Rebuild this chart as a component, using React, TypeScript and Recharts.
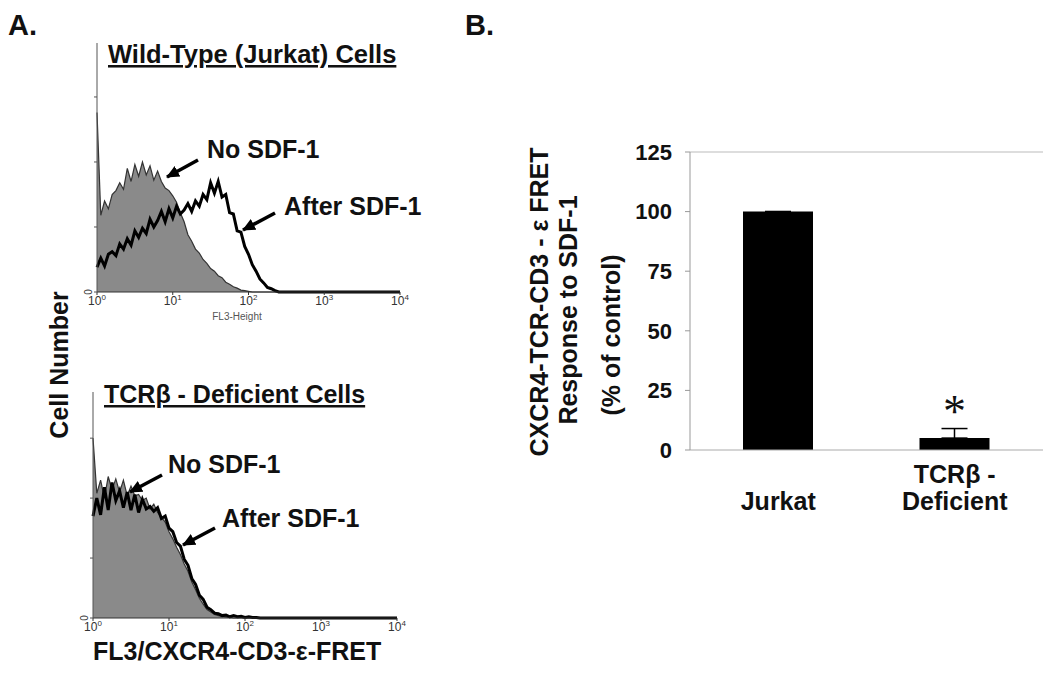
import { ComposedChart, Area, Line, XAxis, YAxis, BarChart, Bar, ErrorBar, LabelList, ReferenceLine } from 'recharts'

// FL3 channels in log10 decades (10^0 .. 10^4)
const bins = [0, 0.05, 0.1, 0.15, 0.2, 0.25, 0.3, 0.35, 0.4, 0.45, 0.5, 0.55, 0.6, 0.65, 0.7, 0.75, 0.8, 0.85, 0.9, 0.95,
  1, 1.05, 1.1, 1.15, 1.2, 1.25, 1.3, 1.35, 1.4, 1.45, 1.5, 1.55, 1.6, 1.65, 1.7, 1.75, 1.8, 1.85, 1.9, 1.95,
  2, 2.05, 2.1, 2.15, 2.2, 2.25, 2.3, 2.35, 2.4, 2.45, 2.5, 3, 4]
const decadeTicks = [0, 1, 2, 3, 4]
const countTicks = [0, 100, 200, 300]

// cell counts
const wtNoSdf = [276, 118, 140, 128, 150, 156, 168, 158, 190, 170, 196, 178, 200, 180, 194, 172, 186, 170, 160, 156,
  148, 138, 122, 108, 88, 78, 66, 60, 50, 44, 36, 32, 25, 22, 15, 12, 8, 6, 3, 2,
  1, 0, 0, 0, 0, 0, 0, 0, 0, 0, 0, 0, 0]
const wtAfterSdf = [38, 52, 40, 58, 62, 56, 74, 66, 82, 72, 94, 84, 98, 90, 112, 100, 110, 124, 108, 128,
  114, 132, 120, 126, 136, 124, 140, 132, 150, 142, 168, 152, 170, 146, 150, 122, 120, 94, 92, 70,
  58, 42, 32, 20, 14, 7, 5, 2, 0, 0, 0, 0, 0]
const tcrNoSdf = [300, 208, 230, 200, 236, 214, 232, 210, 230, 204, 220, 204, 206, 196, 200, 182, 190, 176, 168, 160,
  144, 132, 118, 106, 90, 78, 60, 47, 33, 23, 14, 10, 6, 4, 3, 2, 1, 0, 0, 0,
  0, 0, 0, 0, 0, 0, 0, 0, 0, 0, 0, 0, 0]
const tcrAfterSdf = [170, 200, 172, 218, 180, 226, 196, 212, 184, 210, 180, 206, 176, 198, 182, 186, 178, 184, 166, 170,
  150, 144, 126, 120, 98, 88, 66, 56, 38, 31, 18, 14, 8, 7, 4, 5, 2, 4, 2, 3,
  1, 2, 1, 1, 0, 0, 0, 0, 0, 0, 0, 0, 0]

// panel B
const groups = ['Jurkat', 'TCRβ -|Deficient']
const fretResponse = [100, 5]
const fretSem = [0, 4]
const sigMarks = ['', '*']
const pctTicks = [0, 25, 50, 75, 100, 125]

const font = '"Liberation Sans", Arial, Helvetica, sans-serif'

function DecadeTick({ x, y, payload }: any) {
  return (
    <text x={x} y={y + 8} textAnchor="middle" fontFamily={font} fontSize={12} fill="#333">
      10<tspan dy={-5} fontSize={8}>{payload.value}</tspan>
    </text>
  )
}

function ZeroTick({ x, y, payload }: any) {
  if (payload.value !== 0) return <g />
  return (
    <text x={x} y={y} transform={`rotate(-90 ${x} ${y})`} textAnchor="middle" fontFamily={font} fontSize={10} fill="#333">0</text>
  )
}

function FretHistogram({ noSdf, afterSdf, yMax, width, height, margin, yWidth, xHeight }: any) {
  const rows = bins.map((b, i) => ({ b, noSdf: noSdf[i], afterSdf: afterSdf[i] }))
  return (
    <ComposedChart width={width} height={height} data={rows} margin={margin}>
      <XAxis dataKey="b" type="number" domain={[0, 4]} ticks={decadeTicks} height={xHeight}
        tick={<DecadeTick />} tickSize={3} tickMargin={2} stroke="#333" />
      <YAxis type="number" domain={[0, yMax]} ticks={countTicks} width={yWidth}
        tick={<ZeroTick />} tickSize={3} tickMargin={2} stroke="#555" />
      <Area dataKey="noSdf" type="linear" fill="#8a8a8a" fillOpacity={1} stroke="#333" strokeWidth={1.2} isAnimationActive={false} />
      <Line dataKey="afterSdf" type="linear" stroke="#000" strokeWidth={3} dot={false} isAnimationActive={false} />
    </ComposedChart>
  )
}

function GroupTick({ x, y, payload }: any) {
  const lines = String(payload.value).split('|')
  return (
    <text x={x} textAnchor="middle" fontFamily={font} fontSize={25} fontWeight="bold" fill="#111">
      {lines.map((l, i) => (
        <tspan key={i} x={x} y={y + 60 - (lines.length - 1 - i) * 27}>{l}</tspan>
      ))}
    </text>
  )
}

function SigMark({ x, y, width, value }: any) {
  if (!value) return null
  return (
    <text x={x + width / 2} y={y - 11} textAnchor="middle" fontFamily='"Liberation Serif", serif' fontSize={46} fill="#111">{value}</text>
  )
}

const bold = { fontFamily: font, fontWeight: 'bold' as const, fill: '#111' }

export default function App() {
  const barRows = groups.map((g, i) => ({ g, v: fretResponse[i], e: [0, fretSem[i]], sig: sigMarks[i] }))
  return (
    <div style={{ position: 'absolute', left: 0, top: 0, width: 1050, height: 682, background: '#fff', overflow: 'hidden' }}>
      <div style={{ position: 'absolute', left: 0, top: 0 }}>
        <FretHistogram noSdf={wtNoSdf} afterSdf={wtAfterSdf} yMax={383} width={420} height={320}
          margin={{ top: 43, right: 20, left: 0, bottom: 0 }} yWidth={97} xHeight={28} />
      </div>
      <div style={{ position: 'absolute', left: 0, top: 350 }}>
        <FretHistogram noSdf={tcrNoSdf} afterSdf={tcrAfterSdf} yMax={377} width={420} height={300}
          margin={{ top: 42, right: 23, left: 0, bottom: 0 }} yWidth={93} xHeight={32} />
      </div>
      <div style={{ position: 'absolute', left: 540, top: 120 }}>
        <BarChart width={510} height={420} data={barRows} margin={{ top: 32, right: 7, left: 0, bottom: 0 }}>
          <XAxis dataKey="g" height={90} tickLine={false} tickSize={0} tickMargin={0} stroke="#aaa" tick={<GroupTick />} interval={0} />
          <YAxis domain={[0, 125]} ticks={pctTicks} width={150} tickSize={5} tickMargin={13} stroke="#999"
            tick={{ fill: '#111', fontSize: 22, fontWeight: 'bold', fontFamily: font }} />
          <YAxis yAxisId="frame" orientation="right" domain={[0, 125]} width={0} tick={false} tickLine={false} stroke="#bbb" />
          <ReferenceLine y={125} stroke="#bbb" />
          <Bar dataKey="v" fill="#000" barSize={70} isAnimationActive={false}>
            <ErrorBar dataKey="e" width={13} strokeWidth={1.5} stroke="#000" direction="y" />
            <LabelList dataKey="sig" content={<SigMark />} />
          </Bar>
        </BarChart>
      </div>
      <svg width={1050} height={682} style={{ position: 'absolute', left: 0, top: 0, pointerEvents: 'none' }}>
        <defs>
          <marker id="head" markerUnits="userSpaceOnUse" markerWidth={14} markerHeight={14} refX={12} refY={7} orient="auto">
            <path d="M0,1 L13,7 L0,13 Z" fill="#000" />
          </marker>
        </defs>
        <text x={8} y={35} fontSize={29} {...bold}>A.</text>
        <text x={465} y={35} fontSize={29} {...bold}>B.</text>

        <text x={108} y={63} fontSize={25.5} {...bold} textDecoration="underline">Wild-Type (Jurkat) Cells</text>
        <text x={207} y={158} fontSize={25} {...bold}>No SDF-1</text>
        <line x1={198} y1={160} x2={167} y2={177} stroke="#000" strokeWidth={3.5} markerEnd="url(#head)" />
        <text x={284} y={215} fontSize={25} {...bold}>After SDF-1</text>
        <line x1={275} y1={213} x2={243} y2={230} stroke="#000" strokeWidth={3.5} markerEnd="url(#head)" />
        <text x={237} y={320} fontSize={10} fontFamily={font} fill="#555" textAnchor="middle">FL3-Height</text>

        <text x={68} y={365} fontSize={25} {...bold} textAnchor="middle" transform="rotate(-90 68 365)">Cell Number</text>

        <text x={104} y={403} fontSize={25} {...bold} textDecoration="underline">TCRβ - Deficient Cells</text>
        <text x={168} y={473} fontSize={25} {...bold}>No SDF-1</text>
        <line x1={162} y1={475} x2={130} y2={492} stroke="#000" strokeWidth={3.5} markerEnd="url(#head)" />
        <text x={222} y={527} fontSize={25} {...bold}>After SDF-1</text>
        <line x1={215} y1={528} x2={183} y2={545} stroke="#000" strokeWidth={3.5} markerEnd="url(#head)" />
        <text x={93} y={660} fontSize={25} {...bold}>FL3/CXCR4-CD3-ε-FRET</text>

        <text x={548} y={302} fontSize={25} {...bold} textAnchor="middle" transform="rotate(-90 548 302)">CXCR4-TCR-CD3 - ε FRET</text>
        <text x={577} y={310} fontSize={25} {...bold} textAnchor="middle" transform="rotate(-90 577 310)">Response to SDF-1</text>
        <text x={620} y={335} fontSize={25} {...bold} textAnchor="middle" transform="rotate(-90 620 335)">(% of control)</text>
      </svg>
    </div>
  )
}
